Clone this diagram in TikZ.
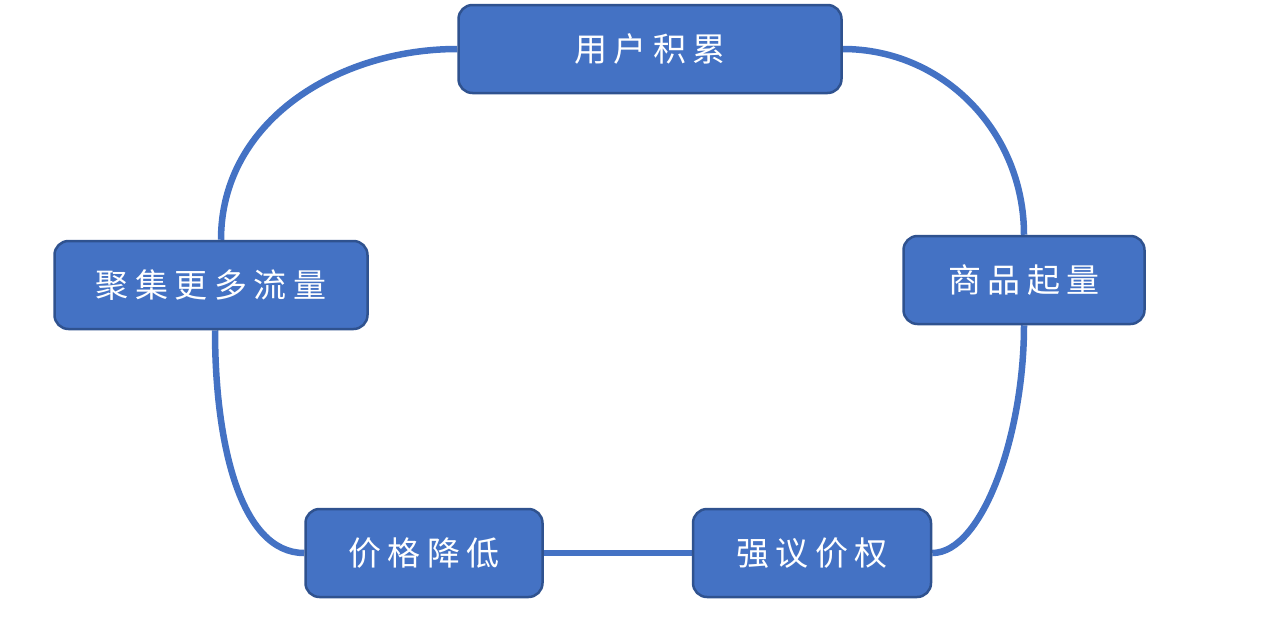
\documentclass[tikz,border=0pt]{standalone}
\usepackage{fontspec}
\usetikzlibrary{backgrounds}
\newfontfamily\cjk[LetterSpace=20]{Noto Sans CJK SC}
\definecolor{boxfill}{HTML}{4472C4}
\definecolor{boxline}{HTML}{2F528F}
\begin{document}
\begin{tikzpicture}[x=1pt,y=-1pt,
  stage/.style={draw=boxline,line width=2.5pt,fill=boxfill,rounded corners=14pt,
    minimum height=88pt,inner sep=0pt,text=white,font=\cjk\fontsize{33}{38}\selectfont},
  link/.style={draw=boxfill,line width=6.5pt}]
\useasboundingbox (0,0) rectangle (1261,638);
\node[stage,minimum width=383pt] (A) at (650,49) {用户积累};
\node[stage,minimum width=241pt] (B) at (1024,280) {商品起量};
\node[stage,minimum width=238pt] (C) at (812,553) {强议价权};
\node[stage,minimum width=237pt] (D) at (424,553) {价格降低};
\node[stage,minimum width=313pt] (E) at (211,285) {聚集更多流量};
\begin{scope}[on background layer]
\draw[link] (A.east) to[out=0,in=90] (B.north);
\draw[link] (B.south) to[out=-90,in=0,out distance=110pt,in distance=50pt] (C.east);
\draw[link] (C.west) -- (D.east);
\draw[link] (D.west) to[out=180,in=-90,out distance=65pt,in distance=110pt] ([xshift=4pt]E.south);
\draw[link] ([xshift=10pt]E.north) to[out=90,in=180] (A.west);
\end{scope}
\end{tikzpicture}
\end{document}
